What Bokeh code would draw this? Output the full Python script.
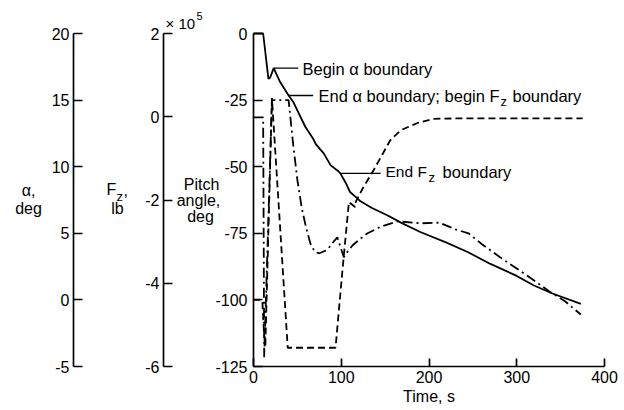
import numpy as np
from bokeh.plotting import figure
from bokeh.models import Range1d, LinearAxis, FixedTicker, Label
from bokeh.embed import file_html
from bokeh.resources import INLINE

# ---------------- data ----------------
time_pitch = [0, 10, 11, 17, 19, 23, 30, 40, 45, 59, 68, 71, 80, 88, 96, 99, 105, 110, 118,
              122, 135, 153, 168, 190, 220, 244, 270, 300, 319, 340, 373]
pitch_deg = [0, 0, 0, -17, -16.5, -13, -18, -23.3, -25.5, -35, -39.5, -41.5, -45, -49.5, -51.5,
             -52.5, -56, -59.5, -61.8, -63, -65.5, -68.3, -71, -74.5, -78.5, -82, -86.5, -91,
             -94.5, -97.5, -101.5]

time_fz = [0, 10, 12, 13.5, 21, 39, 93.5, 101.4, 108.2, 108.6, 115.8, 116.4, 125, 137, 147,
           156, 168, 187, 205, 230, 375]
fz_1e5_lb = [-4.4, -4.4, -5.2, -5.5, 0.45, -5.55, -5.55, -3.68, -2.17, -2.05, -2.17, -2.05,
             -1.7, -1.28, -0.9, -0.56, -0.32, -0.15, -0.05, -0.04, -0.04]

time_alpha = [0, 11, 12.2, 21, 40, 45, 50, 55, 60, 65, 70, 75, 84, 91, 95.5, 99, 103, 108, 113,
              122, 130, 145, 164, 190, 212, 230, 245, 260, 281, 300, 319, 338, 355, 373]
alpha_deg = [13.7, 13.7, -4.3, 15.0, 15.0, 11.8, 9.0, 6.9, 5.4, 4.2, 3.6, 3.5, 3.75, 4.35, 4.7,
             4.0, 3.2, 3.7, 4.1, 4.6, 5.0, 5.5, 5.9, 5.75, 5.8, 5.3, 5.0, 4.2, 3.2, 2.35, 1.5,
             0.6, -0.1, -1.1]

pitch_ticks = [-125, -100, -75, -50, -25, 0]
alpha_ticks = [-5, 0, 5, 10, 15, 20]
fz_ticks = [-6, -4, -2, 0, 2]
time_ticks = [0, 100, 200, 300, 400]

ann_time = [23, 40, 99]          # where the leader lines touch the pitch curve
ann_end_time = [51, 68, 145]     # where the leader lines end

# ---------------- layout helpers (picture pixels -> data) ----------------
W, H = 618, 408
X0_PX, X400_PX = 253, 604
Y0_PX, Y125_PX = 33, 366
sx = (X400_PX - X0_PX) / 400.0
sy = (Y125_PX - Y0_PX) / 125.0


def tx(px):
    return (px - X0_PX) / sx


def py(px):
    return -(px - Y0_PX) / sy


p_lo, p_hi = py(H), py(0)
p = figure(width=W, height=H, x_range=Range1d(tx(0), tx(W)), y_range=Range1d(p_lo, p_hi),
           output_backend="svg", toolbar_location=None, min_border=0,
           x_axis_location=None, y_axis_location=None)
p.outline_line_color = None
p.background_fill_color = "white"
p.border_fill_color = "white"
p.xgrid.grid_line_color = None
p.ygrid.grid_line_color = None
p.xgrid.visible = False
p.ygrid.visible = False
p.extra_y_ranges = {
    "alpha": Range1d(20 + p_lo / 5.0, 20 + p_hi / 5.0),
    "fz": Range1d(2 + p_lo * 8 / 125.0, 2 + p_hi * 8 / 125.0),
}

FONT = "Liberation Sans"


def style_axis(ax, ticks, loc, bounds, standoff):
    ax.ticker = FixedTicker(ticks=ticks)
    ax.fixed_location = loc
    ax.bounds = bounds
    ax.major_tick_in = 9
    ax.major_tick_out = 0
    ax.minor_tick_in = 0
    ax.minor_tick_out = 0
    ax.major_label_standoff = standoff
    ax.major_label_text_font = FONT
    ax.major_label_text_font_size = "16px"
    ax.major_label_text_color = "black"
    ax.axis_line_width = 1.7
    ax.axis_line_color = "black"
    ax.major_tick_line_width = 1.7
    ax.major_tick_line_color = "black"
    ax.major_label_overrides = {t: str(t) for t in ticks}


ax_pitch = LinearAxis()
style_axis(ax_pitch, pitch_ticks, 0, (-125, 0), 6)
p.add_layout(ax_pitch, "left")

ax_alpha = LinearAxis(y_range_name="alpha")
style_axis(ax_alpha, alpha_ticks, tx(73), (-5, 20), 4)
p.add_layout(ax_alpha, "left")

ax_fz = LinearAxis(y_range_name="fz")
style_axis(ax_fz, fz_ticks, tx(163), (-6, 2), 4)
p.add_layout(ax_fz, "left")

ax_time = LinearAxis()
style_axis(ax_time, time_ticks, -125, (0, 400), 4)
ax_time.major_tick_in = 8
p.add_layout(ax_time, "below")

# ---------------- curves ----------------
p.line(time_pitch, pitch_deg, line_width=1.8, line_color="black")
p.line(time_fz, fz_1e5_lb, y_range_name="fz", line_width=1.8, line_color="black",
       line_dash="7 4")
p.line(time_alpha, alpha_deg, y_range_name="alpha", line_width=1.8, line_color="black",
       line_dash="10 4 2 4")

# leader lines
ann_y = np.interp(ann_time, time_pitch, pitch_deg)
p.segment(x0=ann_time, y0=ann_y, x1=ann_end_time, y1=ann_y, line_width=1.4, line_color="black")


def lab(text, px, pyy, size="16px", align="left"):
    p.add_layout(Label(x=tx(px), y=py(pyy), text=text, text_font=FONT, text_font_size=size,
                       text_color="black", text_align=align, text_baseline="middle"))


# annotations
lab("Begin α boundary", 302, 68, "16.5px")
lab("End α boundary; begin F", 318, 95, "16.5px")
lab("z", 500, 101, "13px")
lab("boundary", 512, 95, "16.5px")
lab("End F", 385, 171, "15.5px")
lab("z", 428, 177, "13px")
lab("boundary", 442, 171, "16.5px")

# axis titles
lab("α,", 28, 190, "16px", "center")
lab("deg", 28, 208, "16px", "center")
lab("F", 106, 189, "16px")
lab("z", 116, 196, "13px")
lab(",", 123, 189, "16px")
lab("lb", 117, 208, "16px", "center")
lab("Pitch", 201, 184, "16px", "center")
lab("angle,", 198, 200, "16px", "center")
lab("deg", 200, 216, "16px", "center")
lab("× 10", 165, 23, "15px")
lab("5", 196, 15, "11px")
lab("Time, s", 428.5, 396, "16px", "center")

open("out.html", "w").write(file_html(p, INLINE))
